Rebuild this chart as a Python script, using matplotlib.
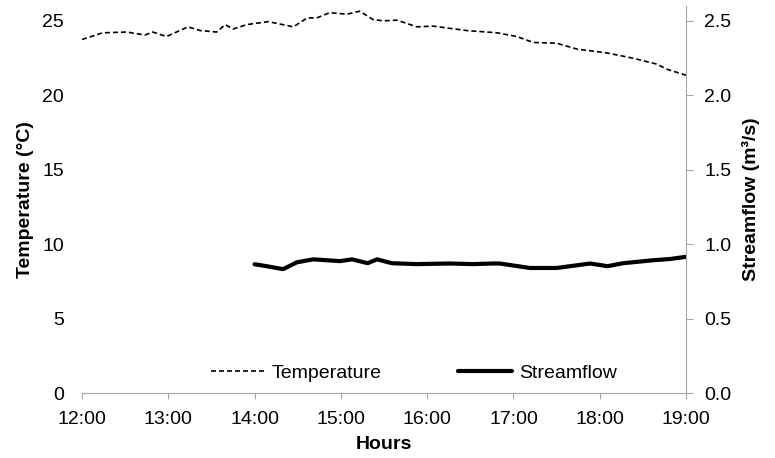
import matplotlib
matplotlib.use("Agg")
import matplotlib.pyplot as plt

plt.rcParams['font.family'] = ['Liberation Sans', 'DejaVu Sans']

# Temperature record (hours since midnight, °C)
temp_hours = [12.00, 12.24, 12.52, 12.73, 12.82, 12.98, 13.23, 13.37, 13.56, 13.66,
              13.75, 13.91, 14.16, 14.45, 14.61, 14.72, 14.87, 15.07, 15.22, 15.37,
              15.49, 15.65, 15.88, 16.07, 16.26, 16.46, 16.81, 17.04, 17.23, 17.50,
              17.74, 18.08, 18.38, 18.66, 18.78, 19.00]
temp_values = [23.75, 24.2, 24.25, 24.05, 24.25, 23.95, 24.6, 24.35, 24.25, 24.75,
               24.45, 24.75, 24.95, 24.6, 25.2, 25.2, 25.55, 25.45, 25.65, 25.1,
               25.0, 25.05, 24.6, 24.65, 24.5, 24.35, 24.2, 23.95, 23.55, 23.5,
               23.1, 22.85, 22.5, 22.1, 21.75, 21.35]

# Streamflow record (hours since midnight, m³/s)
flow_hours = [14.00, 14.14, 14.33, 14.49, 14.68, 14.99, 15.13, 15.31, 15.42, 15.59,
              15.88, 16.26, 16.53, 16.76, 16.84, 17.19, 17.50, 17.89, 18.09, 18.27,
              18.62, 18.81, 19.00]
flow_values = [0.865, 0.852, 0.832, 0.878, 0.898, 0.886, 0.898, 0.872, 0.898, 0.872,
               0.866, 0.870, 0.866, 0.870, 0.870, 0.840, 0.840, 0.870, 0.852, 0.872,
               0.892, 0.900, 0.915]

hour_ticks = [12, 13, 14, 15, 16, 17, 18, 19]
hour_labels = ["12:00", "13:00", "14:00", "15:00", "16:00", "17:00", "18:00", "19:00"]
temp_ticks = [0, 5, 10, 15, 20, 25]
flow_ticks = [0.0, 0.5, 1.0, 1.5, 2.0, 2.5]

fig = plt.figure(figsize=(7.75, 4.58), dpi=100)
ax = fig.add_axes([0.1058, 0.1419, 0.7794, 0.845])
ax2 = ax.twinx()

grey = "#a6a6a6"

l1, = ax.plot(temp_hours, temp_values, color="black", linestyle=(0, (3.0, 1.8)),
              linewidth=1.2, label="Temperature")
l2, = ax2.plot(flow_hours, flow_values, color="black", linewidth=3.0,
               solid_capstyle="round", label="Streamflow")

ax.set_xlim(12, 19)
ax.set_ylim(0, 26)
ax2.set_ylim(0, 2.6)

ax.set_xticks(hour_ticks)
ax.set_xticklabels(hour_labels)
ax.set_yticks(temp_ticks)
ax2.set_yticks(flow_ticks)
ax2.set_yticklabels([f"{v:.1f}" for v in flow_ticks])

for a in (ax, ax2):
    for s in ("top", "left"):
        a.spines[s].set_visible(False)
ax.spines["right"].set_visible(False)
ax2.spines["bottom"].set_visible(False)
ax.spines["bottom"].set_color(grey)
ax2.spines["right"].set_color(grey)

ax.tick_params(axis="x", direction="out", length=4, color=grey, labelsize=14, pad=9)
ax.tick_params(axis="y", length=0, labelsize=14, pad=13)
ax2.tick_params(axis="y", direction="out", length=5, color=grey, labelsize=14, pad=8)

ax.set_xlabel("Hours", fontsize=14, fontweight="bold", labelpad=6)
ax.set_ylabel("Temperature (°C)", fontsize=14, fontweight="bold", labelpad=6)
ax2.set_ylabel("Streamflow (m³/s)", fontsize=14, fontweight="bold", labelpad=8)

fig.legend(handles=[l1, l2], loc="center", bbox_to_anchor=(0.534, 0.186), ncol=2,
           frameon=False, fontsize=14, handlelength=2.8, handletextpad=0.36,
           columnspacing=3.9, borderpad=0, borderaxespad=0)

fig.savefig("out.png", dpi=100)
